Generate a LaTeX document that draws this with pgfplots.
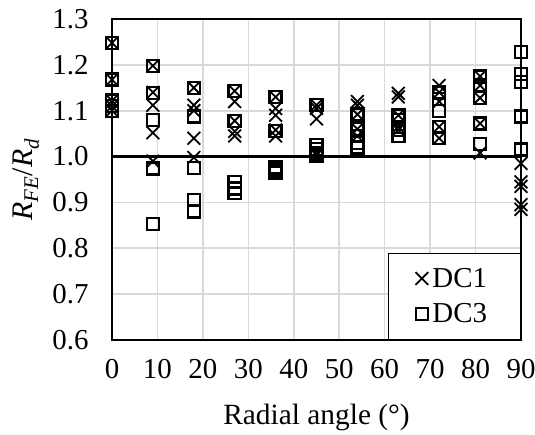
\documentclass[border=0pt]{standalone}
\usepackage{fontspec}
\setmainfont{Liberation Serif}
\usepackage{pgfplots}
\usepackage{pgfplotstable}
\pgfplotsset{compat=1.18}

% R_FE/R_d against radial angle
\pgfplotstableread{
x y
0 1.248
0 1.168
0 1.122
0 1.110
0 1.100
9 1.198
9 1.140
9 1.112
9 1.052
9 0.990
18 1.150
18 1.112
18 1.100
18 1.040
18 0.998
27 1.143
27 1.120
27 1.078
27 1.055
27 1.045
36 1.130
36 1.105
36 1.090
36 1.058
36 1.045
45 1.112
45 1.105
45 1.082
45 1.010
45 1.003
54 1.120
54 1.112
54 1.092
54 1.060
54 1.045
63 1.138
63 1.130
63 1.090
63 1.065
63 1.058
72 1.155
72 1.140
72 1.120
72 1.065
72 1.040
81 1.175
81 1.155
81 1.128
81 1.072
81 1.008
90 0.985
90 0.945
90 0.935
90 0.895
90 0.885
}\dcone

\pgfplotstableread{
x y
0 1.248
0 1.168
0 1.122
0 1.110
0 1.100
9 1.198
9 1.138
9 1.080
9 0.974
9 0.853
18 1.150
18 1.087
18 0.975
18 0.905
18 0.880
27 1.143
27 1.078
27 0.945
27 0.930
27 0.920
36 1.130
36 1.056
36 0.976
36 0.970
36 0.964
45 1.112
45 1.025
45 1.016
45 1.008
45 1.002
54 1.092
54 1.060
54 1.045
54 1.030
54 1.020
63 1.090
63 1.080
63 1.065
63 1.058
63 1.045
72 1.140
72 1.125
72 1.100
72 1.065
72 1.040
81 1.175
81 1.155
81 1.128
81 1.072
81 1.027
90 1.228
90 1.180
90 1.163
90 1.087
90 1.015
}\dcthree

\begin{document}
\begin{tikzpicture}
  \begin{axis}[
    at={(0,0)}, anchor=south west,
    scale only axis,
    width=409bp, height=321bp,
    xmin=0, xmax=90, ymin=0.6, ymax=1.3,
    xtick={0,10,...,90},
    ytick={0.6,0.7,...,1.3},
    yticklabel style={/pgf/number format/fixed,
      /pgf/number format/fixed zerofill,
      /pgf/number format/precision=1, xshift=-20bp},
    /pgf/number format/assume math mode=true,
    major tick length=0pt,
    tick label style={font=\fontsize{29}{32}\selectfont},
    xticklabel style={yshift=-16bp},
    grid=major,
    major grid style={draw=black!15, line width=1.6bp},
    axis line style={line width=2bp},
    xlabel={Radial angle (°)},
    xlabel style={font=\fontsize{29.5}{32}\selectfont, at={(axis description cs:0.5,-0.24)}, anchor=center},
    ylabel={\textit{R}\textsubscript{\textit{FE}}/\textit{R}\textsubscript{\textit{d}}},
    ylabel style={font=\fontsize{30}{32}\selectfont, at={(axis description cs:-0.21,0.5)}, anchor=center},
    legend style={at={(1,0)}, anchor=south east, draw=black, line width=1.2bp,
      fill=white, font=\fontsize{29}{32}\selectfont,
      inner xsep=0bp, inner ysep=13bp, row sep=11bp,
      nodes={inner xsep=3bp, text width=85bp}},
    legend cell align=left,
    legend image code/.code={\path (-33bp,0bp) (7bp,0bp);
      \draw[#1] plot coordinates {(0bp,0bp)};},
  ]
    \addplot[forget plot, black, line width=2.2bp] coordinates {(0,1) (90,1)};
    \addplot[only marks, black, mark=x, mark size=9bp, mark options={line width=1.8bp}]
      table {\dcone};
    \addlegendentry{DC1}
    \addplot[only marks, black, mark=square, mark size=6bp, mark options={line width=2.4bp}]
      table {\dcthree};
    \addlegendentry{DC3}
  \end{axis}
  \pgfresetboundingbox
  \useasboundingbox (-112bp,-95bp) rectangle (423bp,340bp);
\end{tikzpicture}
\end{document}
